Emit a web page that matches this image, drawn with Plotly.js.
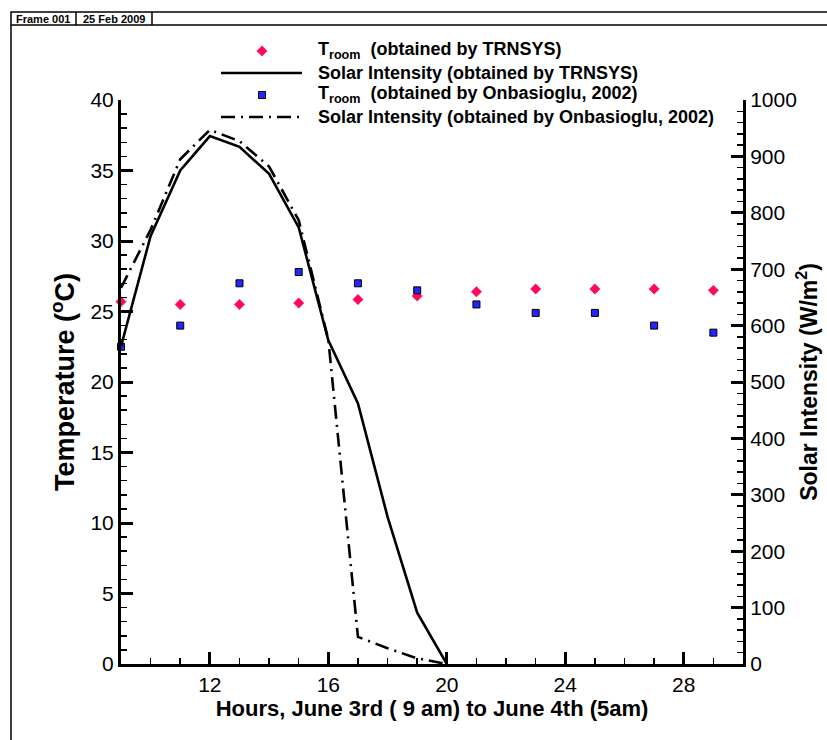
<!DOCTYPE html>
<html>
<head>
<meta charset="utf-8">
<script src="https://cdn.plot.ly/plotly-3.0.1.min.js"></script>
<style>
html,body{margin:0;padding:0;background:#fff;}
#chart{width:827px;height:740px;}
</style>
</head>
<body>
<div id="chart"></div>
<script>
// ---- data ----
var tempHours = [9, 11, 13, 15, 17, 19, 21, 23, 25, 27, 29];
var troomTRNSYS = [25.7, 25.5, 25.5, 25.6, 25.85, 26.1, 26.4, 26.6, 26.6, 26.6, 26.5];
var troomOnbasioglu = [22.5, 24.0, 27.0, 27.8, 27.0, 26.5, 25.5, 24.9, 24.9, 24.0, 23.5];

var solarHours = [9, 10, 11, 12, 13, 14, 15, 16, 17, 18, 19, 20];
var solarTRNSYS = [563, 759, 875, 936, 917, 869, 774, 574, 462, 261, 91, 0];
var solarOnbasioglu = [667, 770, 895, 947, 927, 882, 787, 575, 48, 28, 10, 0];

var xTickVals = [12, 16, 20, 24, 28];
var names = [
  'T<sub>room</sub>  (obtained by TRNSYS)',
  'Solar Intensity (obtained by TRNSYS)',
  'T<sub>room</sub>  (obtained by Onbasioglu, 2002)',
  'Solar Intensity (obtained by Onbasioglu, 2002)'
];
var xTitle = 'Hours, June 3rd ( 9 am) to June 4th (5am)';
var yTitle = 'Temperature (<sup>o</sup>C)';
var y2Title = 'Solar Intensity (W/m<sup>2</sup>)';
var headerFrame = 'Frame 001';
var headerDate = '25 Feb 2009';

// ---- layout helpers ----
var L = 121, R = 743, T = 100, B = 664, W = 827, H = 740;
function px(x){ return (x - L) / (R - L); }
function py(y){ return (B - y) / (B - T); }

var FONT = 'Liberation Sans, Arial, sans-serif';
var RED = '#ff0a5a', BLUE = '#2424ff';
var DASHDOT = '14px,6px,2px,6px';

var traces = [
  {x: tempHours, y: troomTRNSYS, name: names[0], type: 'scatter', mode: 'markers',
   cliponaxis: false,
   marker: {symbol: 'diamond', size: 8, color: RED, line: {color: RED, width: 0.5}}},
  {x: solarHours, y: solarTRNSYS, name: names[1], type: 'scatter', mode: 'lines', yaxis: 'y2',
   line: {color: '#000', width: 2.6}},
  {x: tempHours, y: troomOnbasioglu, name: names[2], type: 'scatter', mode: 'markers',
   cliponaxis: false,
   marker: {symbol: 'square', size: 7, color: BLUE, line: {color: '#000', width: 1}}},
  {x: solarHours, y: solarOnbasioglu, name: names[3], type: 'scatter', mode: 'lines', yaxis: 'y2',
   line: {color: '#000', width: 2.6, dash: DASHDOT}}
];

var axisCommon = {
  showgrid: false, zeroline: false, showline: true, linecolor: '#000', linewidth: 3,
  ticks: 'inside', ticklen: 12, tickwidth: 3, tickcolor: '#000',
  tickfont: {family: FONT, size: 21, color: '#000'}
};

// ---- manual legend (symbols as shapes, labels as annotations) ----
var legRows = [51, 73, 95, 117];
var legSymX = 262, legLineX0 = 221, legLineX1 = 302, legTextX = 316;
function diamondPath(cx, cy, r){
  return 'M' + px(cx) + ',' + py(cy - r) + ' L' + px(cx + r) + ',' + py(cy) +
         ' L' + px(cx) + ',' + py(cy + r) + ' L' + px(cx - r) + ',' + py(cy) + ' Z';
}
function squarePath(cx, cy, r){
  return 'M' + px(cx - r) + ',' + py(cy - r) + ' L' + px(cx + r) + ',' + py(cy - r) +
         ' L' + px(cx + r) + ',' + py(cy + r) + ' L' + px(cx - r) + ',' + py(cy + r) + ' Z';
}

var shapes = [
  // header frame
  {type: 'rect', xref: 'paper', yref: 'paper', x0: px(11), x1: px(840), y0: py(25), y1: py(12),
   line: {color: '#000', width: 1.5}, fillcolor: 'rgba(0,0,0,0)'},
  {type: 'line', xref: 'paper', yref: 'paper', x0: px(76), x1: px(76), y0: py(25), y1: py(12),
   line: {color: '#000', width: 1.5}},
  {type: 'line', xref: 'paper', yref: 'paper', x0: px(152), x1: px(152), y0: py(25), y1: py(12),
   line: {color: '#000', width: 1.5}},
  {type: 'line', xref: 'paper', yref: 'paper', x0: px(11), x1: px(11), y0: py(25), y1: py(760),
   line: {color: '#000', width: 1.5}},
  // legend symbols
  {type: 'path', xref: 'paper', yref: 'paper', path: diamondPath(legSymX, legRows[0], 5.2),
   fillcolor: RED, line: {color: RED, width: 0.5}},
  {type: 'line', xref: 'paper', yref: 'paper', x0: px(legLineX0), x1: px(legLineX1),
   y0: py(legRows[1]), y1: py(legRows[1]), line: {color: '#000', width: 2.6}},
  {type: 'path', xref: 'paper', yref: 'paper', path: squarePath(legSymX, legRows[2], 3.5),
   fillcolor: BLUE, line: {color: '#000', width: 1}},
  {type: 'line', xref: 'paper', yref: 'paper', x0: px(legLineX0), x1: px(legLineX1),
   y0: py(legRows[3]), y1: py(legRows[3]), line: {color: '#000', width: 2.6, dash: DASHDOT}}
];

var annotations = [
  {xref: 'paper', yref: 'paper', x: px(14), y: py(18.5), xanchor: 'left', yanchor: 'middle',
   text: headerFrame, showarrow: false,
   font: {family: FONT, size: 11, color: '#000', weight: 'bold'}},
  {xref: 'paper', yref: 'paper', x: px(81), y: py(18.5), xanchor: 'left', yanchor: 'middle',
   text: headerDate, showarrow: false,
   font: {family: FONT, size: 11, color: '#000', weight: 'bold'}}
];
names.forEach(function(n, i){
  annotations.push({xref: 'paper', yref: 'paper', x: px(legTextX), y: py(legRows[i]),
    xanchor: 'left', yanchor: 'middle', text: n, showarrow: false,
    font: {family: FONT, size: 18, color: '#000', weight: 'bold'}});
});

var layout = {
  width: W, height: H,
  margin: {l: L, r: W - R, t: T, b: H - B, pad: 0},
  paper_bgcolor: '#fff', plot_bgcolor: '#fff',
  showlegend: false,
  xaxis: Object.assign({}, axisCommon, {
    range: [9, 30], tickvals: xTickVals, mirror: false,
    minor: {ticks: 'inside', dtick: 1, tick0: 0, ticklen: 6, tickwidth: 1.5, tickcolor: '#000'},
    title: {text: xTitle, font: {family: FONT, size: 22, color: '#000', weight: 'bold'}, standoff: 0}
  }),
  yaxis: Object.assign({}, axisCommon, {
    range: [0, 40], dtick: 5, tick0: 0,
    minor: {ticks: 'inside', dtick: 1, tick0: 0, ticklen: 6, tickwidth: 1.5, tickcolor: '#000'},
    title: {text: yTitle, font: {family: FONT, size: 27, color: '#000', weight: 'bold'}, standoff: 8}
  }),
  yaxis2: Object.assign({}, axisCommon, {
    overlaying: 'y', side: 'right', range: [0, 1000], dtick: 100, tick0: 0,
    minor: {ticks: 'inside', dtick: 20, tick0: 0, ticklen: 6, tickwidth: 1.5, tickcolor: '#000'},
    title: {text: y2Title, font: {family: FONT, size: 23, color: '#000', weight: 'bold'}, standoff: 5}
  }),
  shapes: shapes,
  annotations: annotations
};

Plotly.newPlot('chart', traces, layout, {displayModeBar: false, staticPlot: true});
</script>
</body>
</html>
